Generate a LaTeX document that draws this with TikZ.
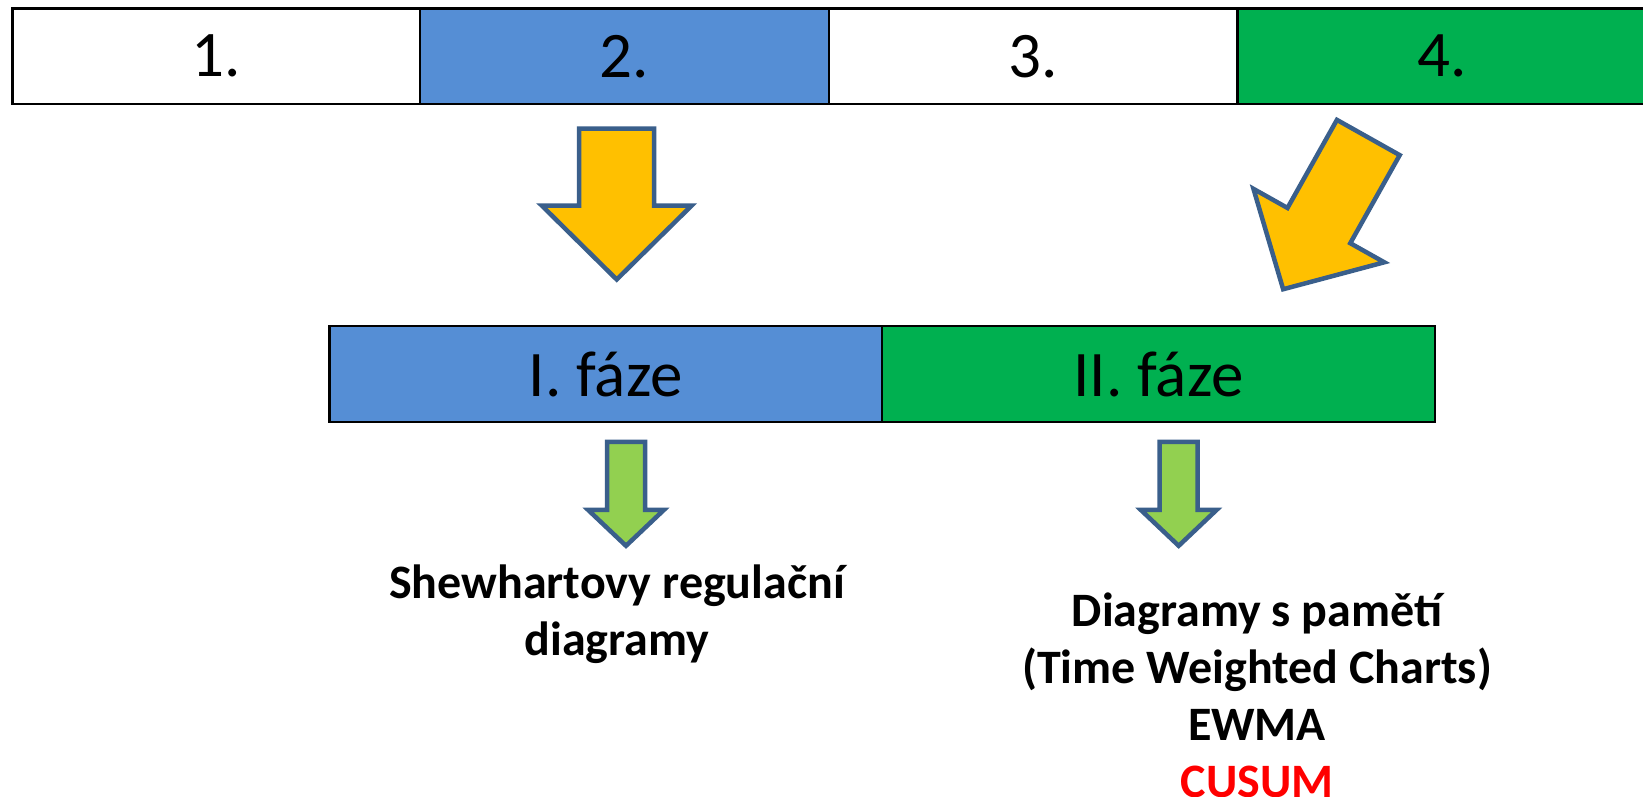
\documentclass[tikz,border=0pt]{standalone}
\usepackage{fontspec}
\setmainfont{Carlito}
\definecolor{cblue}{HTML}{558ED5}
\definecolor{cgreen}{HTML}{00B050}
\definecolor{ayellow}{HTML}{FFC000}
\definecolor{agreen}{HTML}{92D050}
\definecolor{aedge}{HTML}{3A5F8B}
\definecolor{cred}{HTML}{FF0000}
\newcommand\BlkArrow[4]{(-#1,0) -- (#1,0) -- (#1,#2) -- (#3,#2) -- (0,{#2+#4}) -- (-#3,#2) -- (-#1,#2) -- cycle}
\tikzset{
  cell/.style={draw=black, line width=2.5pt, inner sep=0pt, minimum height=95.5pt,
    font=\fontsize{65}{72}\selectfont},
  blkarr/.style={draw=aedge, line width=4.5pt, line join=miter, miter limit=10},
  label/.style={align=center, inner sep=0pt, font=\bfseries\fontsize{48}{57}\selectfont}
}
\begin{document}
\begin{tikzpicture}[x=1pt,y=-1pt]
\useasboundingbox[fill=white] (0,0) rectangle (1643,796);
\begin{scope}
\clip (0,0) rectangle (1643,796);
\node[cell, minimum width=407.5pt] (c1) at (216.25,56.25) {1.};
\node[cell, minimum width=409pt, fill=cblue] (c2) at (624.5,56.25) {2.};
\node[cell, minimum width=408.5pt] (c3) at (1033.25,56.25) {3.};
\node[cell, minimum width=408.5pt, fill=cgreen] (c4) at (1441.75,56.25) {4.};
\end{scope}
\node[cell, minimum width=552.5pt, minimum height=96pt, fill=cblue] (p1) at (605.75,374) {I. fáze};
\node[cell, minimum width=553pt, minimum height=96pt, fill=cgreen] (p2) at (1158.5,374) {II. fáze};
% block arrows
\begin{scope}[shift={(616.7,128.5)}]
  \filldraw[blkarr, fill=ayellow] \BlkArrow{37.5}{77}{75}{74};
\end{scope}
\begin{scope}[shift={(1368.3,137.5)}, rotate=-29.3]
  \filldraw[blkarr, fill=ayellow] \BlkArrow{36}{101}{75}{73};
\end{scope}
\begin{scope}[shift={(626,441.8)}]
  \filldraw[blkarr, fill=agreen] \BlkArrow{19}{68}{38}{36};
\end{scope}
\begin{scope}[shift={(1178.7,441.8)}]
  \filldraw[blkarr, fill=agreen] \BlkArrow{19}{68}{38}{36};
\end{scope}
\node[label] (t1) at (617,614) {Shewhartovy regulační\\diagramy};
\node[label] (t2) at (1257,695) {Diagramy s pamětí\\(Time Weighted Charts)\\EWMA\\\textcolor{cred}{CUSUM}};
\end{tikzpicture}
\end{document}
